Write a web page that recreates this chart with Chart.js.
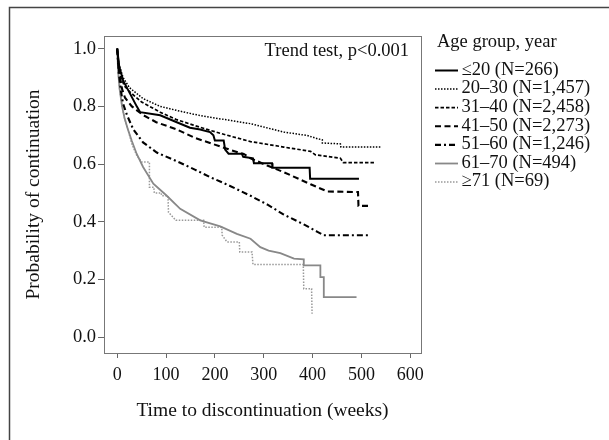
<!DOCTYPE html>
<html lang="en">
<head>
<meta charset="UTF-8">
<title>Probability of continuation by age group</title>
<script src="https://cdn.jsdelivr.net/npm/chart.js"></script>
<style>
    body { margin: 0; background: #fff; }
    #wrap { position: relative; width: 609px; height: 440px; }
</style>
</head>
<body>
<div id="wrap"><canvas id="kmChart"></canvas></div>
<script>
// legend labels, one per age group
const groupLabels = ['≤20 (N=266)', '20–30 (N=1,457)', '31–40 (N=2,458)', '41–50 (N=2,273)',
                     '51–60 (N=1,246)', '61–70 (N=494)', '≥71 (N=69)'];

// axis ticks
const weekTicks = [0, 100, 200, 300, 400, 500, 600];
const probTicks = [0, 0.2, 0.4, 0.6, 0.8, 1.0];

// survival curves (weeks, probability)
const le20Weeks = [0, 4, 12, 26, 40, 47, 88, 122, 149, 170, 190, 197, 200, 218, 221, 228, 255, 258, 278, 280, 317, 318, 394, 395, 495];
const le20Prob  = [1.0, 0.94, 0.89, 0.845, 0.80, 0.78, 0.769, 0.745, 0.726, 0.72, 0.711, 0.70, 0.682, 0.682, 0.65, 0.636, 0.636, 0.625, 0.62, 0.603, 0.603, 0.587, 0.587, 0.549, 0.549];

const g2030Weeks = [0, 3, 12, 25, 53, 88, 122, 156, 190, 230, 273, 341, 389, 410, 420, 420, 457, 458, 540];
const g2030Prob  = [1.0, 0.95, 0.90, 0.865, 0.827, 0.80, 0.786, 0.773, 0.762, 0.752, 0.74, 0.711, 0.699, 0.688, 0.684, 0.673, 0.67, 0.659, 0.659];

const g3140Weeks = [0, 3, 8, 15, 26, 50, 88, 120, 156, 190, 225, 273, 341, 396, 406, 457, 463, 529];
const g3140Prob  = [1.0, 0.94, 0.90, 0.87, 0.85, 0.815, 0.78, 0.755, 0.735, 0.717, 0.70, 0.678, 0.659, 0.644, 0.632, 0.62, 0.605, 0.605];

const g4150Weeks = [0, 4, 10, 16, 30, 53, 80, 122, 160, 190, 230, 259, 273, 307, 341, 396, 430, 493, 494, 519];
const g4150Prob  = [1.0, 0.92, 0.86, 0.83, 0.80, 0.77, 0.745, 0.72, 0.69, 0.673, 0.65, 0.635, 0.62, 0.595, 0.572, 0.53, 0.505, 0.503, 0.455, 0.455];

const g5160Weeks = [0, 3, 8, 12, 20, 33, 53, 81, 122, 160, 190, 230, 273, 307, 341, 383, 410, 423, 519];
const g5160Prob  = [1.0, 0.92, 0.85, 0.81, 0.77, 0.72, 0.675, 0.64, 0.61, 0.58, 0.555, 0.525, 0.49, 0.46, 0.425, 0.39, 0.365, 0.353, 0.353];

const g6170Weeks = [0, 2, 5, 10, 15, 22, 30, 40, 53, 74, 101, 129, 170, 211, 245, 273, 293, 310, 334, 362, 382, 382, 416, 416, 423, 423, 490];
const g6170Prob  = [1.0, 0.92, 0.86, 0.80, 0.76, 0.72, 0.68, 0.635, 0.59, 0.532, 0.491, 0.445, 0.405, 0.384, 0.358, 0.341, 0.312, 0.30, 0.291, 0.272, 0.27, 0.249, 0.249, 0.208, 0.208, 0.139, 0.139];

const ge71Weeks = [0, 2, 5, 10, 15, 22, 30, 40, 50, 66, 66, 75, 76, 90, 91, 104, 105, 120, 177, 178, 214, 215, 225, 250, 251, 276, 278, 381, 382, 398, 399];
const ge71Prob  = [1.0, 0.92, 0.86, 0.80, 0.76, 0.72, 0.67, 0.63, 0.607, 0.607, 0.52, 0.52, 0.50, 0.50, 0.49, 0.49, 0.433, 0.405, 0.405, 0.381, 0.381, 0.353, 0.33, 0.33, 0.295, 0.295, 0.252, 0.252, 0.168, 0.168, 0.081];

const serif = "'Liberation Serif', 'Times New Roman', serif";
const ink = '#111';

function toPoints(xs, ys) {
    return xs.map((x, i) => ({ x: x, y: ys[i] }));
}

function curve(label, xs, ys, color, width, dash) {
    return {
        label: label,
        data: toPoints(xs, ys),
        borderColor: color,
        borderWidth: width,
        borderDash: dash,
        pointRadius: 0,
        tension: 0,
        fill: false
    };
}

// draws the figure frame, plot box, legend and the trend test note
const extrasPlugin = {
    id: 'extras',
    afterDraw(chart) {
        const ctx = chart.ctx;
        const a = chart.chartArea;
        ctx.save();

        ctx.strokeStyle = '#444';
        ctx.lineWidth = 1.5;
        ctx.beginPath();
        ctx.moveTo(9.5, 440);
        ctx.lineTo(9.5, 7.5);
        ctx.lineTo(609, 7.5);
        ctx.stroke();

        ctx.strokeStyle = '#777';
        ctx.lineWidth = 1;
        ctx.strokeRect(a.left + 0.5, a.top + 0.5, a.right - a.left, a.bottom - a.top);

        ctx.fillStyle = ink;
        ctx.font = '18.5px ' + serif;
        ctx.textBaseline = 'middle';
        ctx.textAlign = 'right';
        ctx.fillText('Trend test, p<0.001', 409, 51.5);

        ctx.textAlign = 'left';
        ctx.fillText('Age group, year', 437, 42);
        chart.data.datasets.forEach((ds, i) => {
            const y = 70 + i * 18.6;
            ctx.save();
            ctx.strokeStyle = ds.borderColor;
            ctx.lineWidth = ds.borderWidth;
            ctx.setLineDash(ds.borderDash || []);
            ctx.beginPath();
            ctx.moveTo(435, y + 0.5);
            ctx.lineTo(458, y + 0.5);
            ctx.stroke();
            ctx.restore();
            ctx.fillText(ds.label, 461.5, y);
        });
        ctx.restore();
    }
};

new Chart(document.getElementById('kmChart'), {
    type: 'line',
    data: {
        datasets: [
            curve(groupLabels[0], le20Weeks, le20Prob, '#000', 2, []),
            curve(groupLabels[1], g2030Weeks, g2030Prob, '#000', 1.5, [1.5, 1.5]),
            curve(groupLabels[2], g3140Weeks, g3140Prob, '#000', 1.7, [3.5, 2]),
            curve(groupLabels[3], g4150Weeks, g4150Prob, '#000', 2.1, [6, 3.5]),
            curve(groupLabels[4], g5160Weeks, g5160Prob, '#000', 2.1, [6, 3, 2, 3]),
            curve(groupLabels[5], g6170Weeks, g6170Prob, '#888', 1.8, []),
            curve(groupLabels[6], ge71Weeks, ge71Prob, '#999', 1.5, [1.5, 1.5])
        ]
    },
    options: {
        responsive: true,
        maintainAspectRatio: false,
        animation: false,
        events: [],
        layout: { padding: { left: 10, right: 188, top: 36, bottom: 0 } },
        plugins: { legend: { display: false }, tooltip: { enabled: false } },
        scales: {
            x: {
                type: 'linear',
                min: -27,
                max: 622,
                afterBuildTicks: s => { s.ticks = weekTicks.map(v => ({ value: v })); },
                afterFit: s => { s.height = 87; },
                border: { display: false },
                grid: { drawOnChartArea: false, drawTicks: true, tickLength: 5, color: '#666' },
                ticks: { color: ink, padding: 6, maxRotation: 0, font: { family: serif, size: 18 } },
                title: { display: true, text: 'Time to discontinuation (weeks)', color: ink,
                         padding: { top: 0, bottom: 17 }, font: { family: serif, size: 19.5 } }
            },
            y: {
                type: 'linear',
                min: -0.055,
                max: 1.044,
                afterBuildTicks: s => { s.ticks = probTicks.map(v => ({ value: v })); },
                afterFit: s => { s.width = 94; },
                border: { display: false },
                grid: { drawOnChartArea: false, drawTicks: true, tickLength: 6, color: '#666' },
                ticks: { color: ink, padding: 2, callback: v => v.toFixed(1), font: { family: serif, size: 18.5 } },
                title: { display: true, text: 'Probability of continuation', color: ink,
                         padding: { top: 12.5, bottom: 0 }, font: { family: serif, size: 19.5 } }
            }
        }
    },
    plugins: [extrasPlugin]
});
</script>
</body>
</html>
